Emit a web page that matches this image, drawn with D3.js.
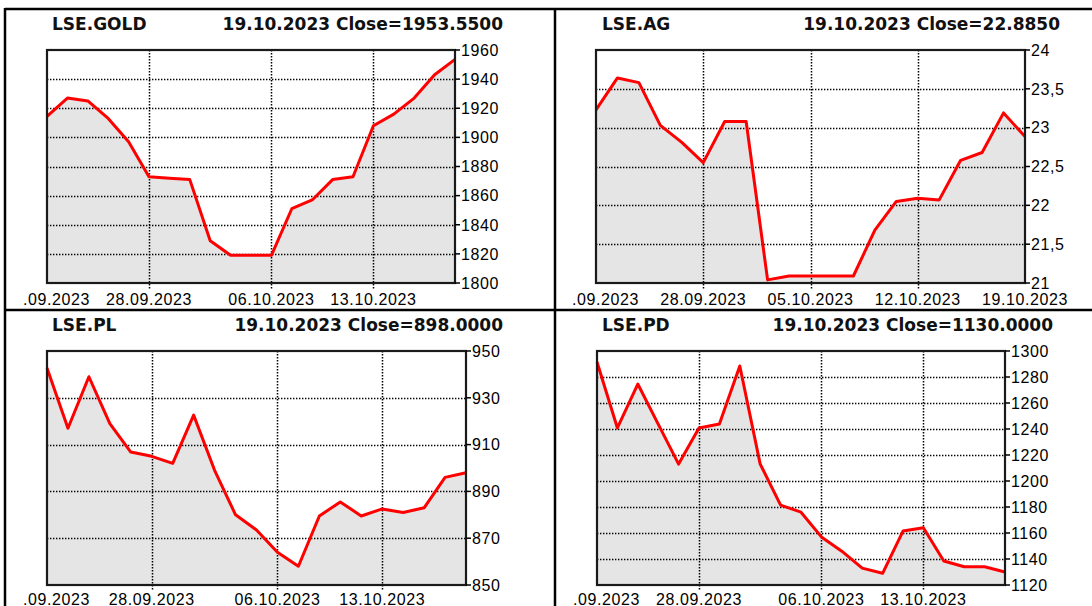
<!DOCTYPE html>
<html>
<head>
<meta charset="utf-8">
<script src="https://cdn.jsdelivr.net/npm/d3@7"></script>
<style>
  body { margin: 0; background: #fff; }
  svg { display: block; }
</style>
</head>
<body>
<div id="chart"></div>
<script>
var dates = ["21.09.2023", "22.09.2023", "25.09.2023", "26.09.2023", "27.09.2023", "28.09.2023",
             "29.09.2023", "02.10.2023", "03.10.2023", "04.10.2023", "05.10.2023", "06.10.2023",
             "09.10.2023", "10.10.2023", "11.10.2023", "12.10.2023", "13.10.2023", "16.10.2023",
             "17.10.2023", "18.10.2023", "19.10.2023"];

var goldValues = [1914.5, 1927, 1925, 1913, 1897, 1873, 1872, 1871, 1829, 1819, 1819,
                  1819, 1851, 1857, 1871, 1873, 1908, 1916, 1927, 1943, 1953.55];
var agValues = [23.23, 23.64, 23.58, 23.03, 22.81, 22.55, 23.08, 23.08, 21.04, 21.09, 21.09,
                21.09, 21.09, 21.68, 22.05, 22.09, 22.07, 22.58, 22.68, 23.19, 22.885];
var plValues = [942.7, 917, 939, 919, 906.8, 905, 902, 922.6, 899, 880, 873.5,
                864, 858, 879.5, 885.5, 879.5, 882.5, 881, 883, 896, 898];
var pdValues = [1291.5, 1240.8, 1274.6, 1243.8, 1213, 1240.8, 1243.8, 1288.5, 1213, 1181.5, 1176,
                1157, 1146, 1133, 1129, 1161.5, 1164, 1138.5, 1134, 1134, 1130];

var goldTicks = [1800, 1820, 1840, 1860, 1880, 1900, 1920, 1940, 1960];
var agTicks = [21, 21.5, 22, 22.5, 23, 23.5, 24];
var plTicks = [850, 870, 890, 910, 930, 950];
var pdTicks = [1120, 1140, 1160, 1180, 1200, 1220, 1240, 1260, 1280, 1300];

var weekTicks = ["21.09.2023", "28.09.2023", "06.10.2023", "13.10.2023"];
var agDateTicks = ["21.09.2023", "28.09.2023", "05.10.2023", "12.10.2023", "19.10.2023"];

var panels = [
  { name: "LSE.GOLD", values: goldValues, yTicks: goldTicks, xTicks: weekTicks, comma: false,
    left: 47, right: 455, top: 50, bottom: 283, boxLeft: 5, titleEnd: 503, labelGap: 22 },
  { name: "LSE.AG", values: agValues, yTicks: agTicks, xTicks: agDateTicks, comma: true,
    left: 596, right: 1025, top: 50, bottom: 283, boxLeft: 555, titleEnd: 1060, labelGap: 22 },
  { name: "LSE.PL", values: plValues, yTicks: plTicks, xTicks: weekTicks, comma: false,
    left: 47, right: 466, top: 351, bottom: 585, boxLeft: 5, titleEnd: 503, labelGap: 20 },
  { name: "LSE.PD", values: pdValues, yTicks: pdTicks, xTicks: weekTicks, comma: false,
    left: 597, right: 1005, top: 351, bottom: 585, boxLeft: 555, titleEnd: 1053, labelGap: 20 }
];

var svg = d3.select("#chart").append("svg")
    .attr("width", 1092)
    .attr("height", 606);

var defs = svg.append("defs");

panels.forEach(function (p, k) {
  var g = svg.append("g");

  var x = d3.scalePoint().domain(dates).range([p.left, p.right]);
  var y = d3.scaleLinear()
      .domain([p.yTicks[0], p.yTicks[p.yTicks.length - 1]])
      .range([p.bottom, p.top]);

  // plot background + shaded area
  g.append("rect")
      .attr("x", p.left).attr("y", p.top)
      .attr("width", p.right - p.left).attr("height", p.bottom - p.top)
      .style("fill", "#fff");

  var area = d3.area()
      .x(function (d, i) { return x(dates[i]); })
      .y0(p.bottom)
      .y1(function (d) { return y(d); });

  g.append("path")
      .datum(p.values)
      .attr("d", area)
      .style("fill", "#e5e5e5");

  // dotted grid
  g.selectAll(".hgrid")
      .data(p.yTicks.slice(1, -1))
      .enter().append("line")
      .attr("x1", p.left).attr("x2", p.right)
      .attr("y1", function (d) { return Math.round(y(d)) + 0.5; })
      .attr("y2", function (d) { return Math.round(y(d)) + 0.5; })
      .style("stroke", "#000").style("stroke-width", 1.5)
      .style("stroke-dasharray", "1.4,1.6");

  g.selectAll(".vgrid")
      .data(p.xTicks.filter(function (d) { return x(d) > p.left + 1 && x(d) < p.right - 1; }))
      .enter().append("line")
      .attr("x1", function (d) { return Math.round(x(d)) + 0.5; })
      .attr("x2", function (d) { return Math.round(x(d)) + 0.5; })
      .attr("y1", p.top).attr("y2", p.bottom + 6)
      .style("stroke", "#000").style("stroke-width", 1.5)
      .style("stroke-dasharray", "1.4,1.6");

  // price line
  var line = d3.line()
      .x(function (d, i) { return x(dates[i]); })
      .y(function (d) { return y(d); });

  g.append("path")
      .datum(p.values)
      .attr("d", line)
      .style("fill", "none")
      .style("stroke", "#ff0000")
      .style("stroke-width", 3)
      .style("stroke-linejoin", "round");

  // frame
  g.append("rect")
      .attr("x", p.left).attr("y", p.top)
      .attr("width", p.right - p.left).attr("height", p.bottom - p.top)
      .style("fill", "none").style("stroke", "#1a1a1a").style("stroke-width", 2.2);

  // right axis ticks and labels
  var fmt = p.comma ? function (d) { return String(d).replace(".", ","); } : d3.format("d");

  g.selectAll(".ytick")
      .data(p.yTicks)
      .enter().append("line")
      .attr("x1", p.right).attr("x2", p.right + 5)
      .attr("y1", function (d) { return y(d); })
      .attr("y2", function (d) { return y(d); })
      .style("stroke", "#000").style("stroke-width", 1.5);

  g.selectAll(".ylab")
      .data(p.yTicks)
      .enter().append("text")
      .attr("x", p.right + 6)
      .attr("y", function (d) { return y(d); })
      .attr("dy", "0.36em")
      .style("font-family", "Liberation Sans, Arial, sans-serif")
      .style("font-size", "16px")
      .style("letter-spacing", "0.6px")
      .style("fill", "#000")
      .text(fmt);

  // bottom date labels, first one cut on the left like the original
  defs.append("clipPath").attr("id", "clip" + k)
    .append("rect")
      .attr("x", p.left - 24).attr("y", p.bottom)
      .attr("width", 700).attr("height", 40);

  g.append("g").attr("clip-path", "url(#clip" + k + ")")
    .selectAll("text")
      .data(p.xTicks)
      .enter().append("text")
      .attr("x", function (d) { return x(d); })
      .attr("y", p.bottom + p.labelGap)
      .attr("text-anchor", "middle")
      .style("font-family", "Liberation Sans, Arial, sans-serif")
      .style("font-size", "16px")
      .style("letter-spacing", "0.6px")
      .style("fill", "#000")
      .text(function (d) { return d; });

  // titles
  var titleY = p.top - 20;
  g.append("text")
      .attr("x", p.boxLeft + 47).attr("y", titleY)
      .style("font-family", "DejaVu Sans, Verdana, sans-serif")
      .style("font-weight", "bold").style("font-size", "17px")
      .style("fill", "#111")
      .text(p.name);

  var last = p.values[p.values.length - 1];
  g.append("text")
      .attr("x", p.titleEnd).attr("y", titleY)
      .attr("text-anchor", "end")
      .style("font-family", "DejaVu Sans, Verdana, sans-serif")
      .style("font-weight", "bold").style("font-size", "17px")
      .style("fill", "#111")
      .text(dates[dates.length - 1] + " Close=" + d3.format(".4f")(last));
});

// panel separators
svg.append("path")
    .attr("d", "M5,9H1092M5,8V606M555,8V606M5,310H1092")
    .style("fill", "none")
    .style("stroke", "#000")
    .style("stroke-width", 2.5);
</script>
</body>
</html>
